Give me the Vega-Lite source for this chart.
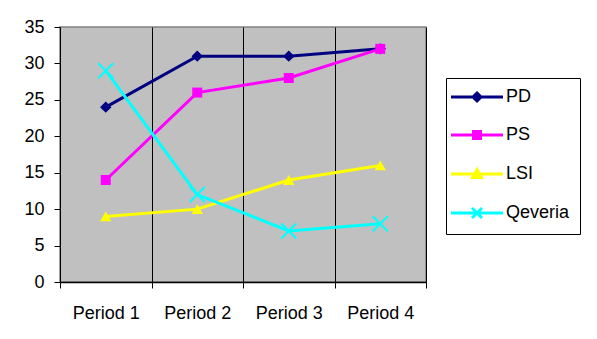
{
  "$schema": "https://vega.github.io/schema/vega-lite/v6.json",
  "width": 366,
  "height": 255,
  "autosize": {"type": "pad"},
  "padding": {"left": 23, "top": 18, "right": 5, "bottom": 5},
  "background": "white",
  "config": {
    "font": "Liberation Sans",
    "view": {"fill": "#C0C0C0", "stroke": "#808080", "strokeWidth": 1.5},
    "legend": {
      "orient": "none",
      "legendX": 386,
      "legendY": 51,
      "strokeColor": "black",
      "fillColor": "white",
      "padding": 10,
      "labelFontSize": 18,
      "labelColor": "black",
      "symbolSize": 100,
      "symbolOffset": 12,
      "labelOffset": 20,
      "rowPadding": 18,
      "symbolStrokeWidth": 3
    }
  },
  "data": {
    "values": [
      {"series": "PD", "period": "Period 1", "value": 24},
      {"series": "PD", "period": "Period 2", "value": 31},
      {"series": "PD", "period": "Period 3", "value": 31},
      {"series": "PD", "period": "Period 4", "value": 32},
      {"series": "PS", "period": "Period 1", "value": 14},
      {"series": "PS", "period": "Period 2", "value": 26},
      {"series": "PS", "period": "Period 3", "value": 28},
      {"series": "PS", "period": "Period 4", "value": 32},
      {"series": "LSI", "period": "Period 1", "value": 9},
      {"series": "LSI", "period": "Period 2", "value": 10},
      {"series": "LSI", "period": "Period 3", "value": 14},
      {"series": "LSI", "period": "Period 4", "value": 16},
      {"series": "Qeveria", "period": "Period 1", "value": 29},
      {"series": "Qeveria", "period": "Period 2", "value": 12},
      {"series": "Qeveria", "period": "Period 3", "value": 7},
      {"series": "Qeveria", "period": "Period 4", "value": 8}
    ]
  },
  "encoding": {
    "x": {
      "field": "period",
      "type": "nominal",
      "bandPosition": 0.5,
      "scale": {"type": "band", "paddingInner": 0, "paddingOuter": 0},
      "axis": {
        "title": null,
        "labelAngle": 0,
        "labelFontSize": 18,
        "labelColor": "black",
        "labelPadding": 16,
        "domain": true,
        "domainColor": "black",
        "domainWidth": 1.5,
        "tickColor": "black",
        "tickSize": 6,
        "tickBand": "extent",
        "grid": true,
        "gridColor": "black",
        "gridOpacity": 1,
        "gridWidth": 1
      }
    },
    "y": {
      "field": "value",
      "type": "quantitative",
      "scale": {"domain": [0, 35], "nice": false},
      "axis": {
        "title": null,
        "values": [0, 5, 10, 15, 20, 25, 30, 35],
        "grid": false,
        "domain": false,
        "tickColor": "black",
        "tickSize": 6,
        "labelFontSize": 18,
        "labelColor": "black",
        "labelPadding": 10
      }
    }
  },
  "layer": [
    {
      "mark": {"type": "line", "strokeWidth": 3},
      "encoding": {
        "color": {
          "field": "series",
          "type": "nominal",
          "scale": {
            "domain": ["PD", "PS", "LSI", "Qeveria"],
            "range": ["#000080", "#FF00FF", "#FFFF00", "#00FFFF"]
          },
          "legend": {
            "title": null,
            "symbolType": {
              "expr": "datum.value === 'PD' ? 'M-5.2,0H5.2M0,-0.8L0.8,0L0,0.8L-0.8,0Z' : datum.value === 'PS' ? 'M-5.2,0H5.2M-0.7,-0.7H0.7V0.7H-0.7Z' : datum.value === 'LSI' ? 'M-5.2,0H5.2M0,-0.9L0.9,0.7H-0.9Z' : 'M-5.2,0H5.2M-1,-1L1,1M1,-1L-1,1'"
            },
            "symbolFillColor": {
              "expr": "datum.value === 'PD' ? '#000080' : datum.value === 'PS' ? '#FF00FF' : datum.value === 'LSI' ? '#FFFF00' : '#00FFFF'"
            },
            "symbolStrokeColor": {
              "expr": "datum.value === 'PD' ? '#000080' : datum.value === 'PS' ? '#FF00FF' : datum.value === 'LSI' ? '#FFFF00' : '#00FFFF'"
            }
          }
        }
      }
    },
    {
      "transform": [{"filter": "datum.series === 'PD'"}],
      "mark": {"type": "point", "shape": "diamond", "filled": true, "size": 130, "opacity": 1},
      "encoding": {"color": {"field": "series", "type": "nominal", "legend": null}}
    },
    {
      "transform": [{"filter": "datum.series === 'PS'"}],
      "mark": {"type": "point", "shape": "square", "filled": true, "size": 100, "opacity": 1},
      "encoding": {"color": {"field": "series", "type": "nominal", "legend": null}}
    },
    {
      "transform": [{"filter": "datum.series === 'LSI'"}],
      "mark": {"type": "point", "shape": "triangle-up", "filled": true, "size": 130, "opacity": 1},
      "encoding": {"color": {"field": "series", "type": "nominal", "legend": null}}
    },
    {
      "transform": [{"filter": "datum.series === 'Qeveria'"}],
      "mark": {"type": "point", "shape": "M-1.5,-1.5L1.5,1.5M1.5,-1.5L-1.5,1.5", "filled": false, "size": 100, "strokeWidth": 2, "opacity": 1},
      "encoding": {"color": {"field": "series", "type": "nominal", "legend": null}}
    }
  ]
}
